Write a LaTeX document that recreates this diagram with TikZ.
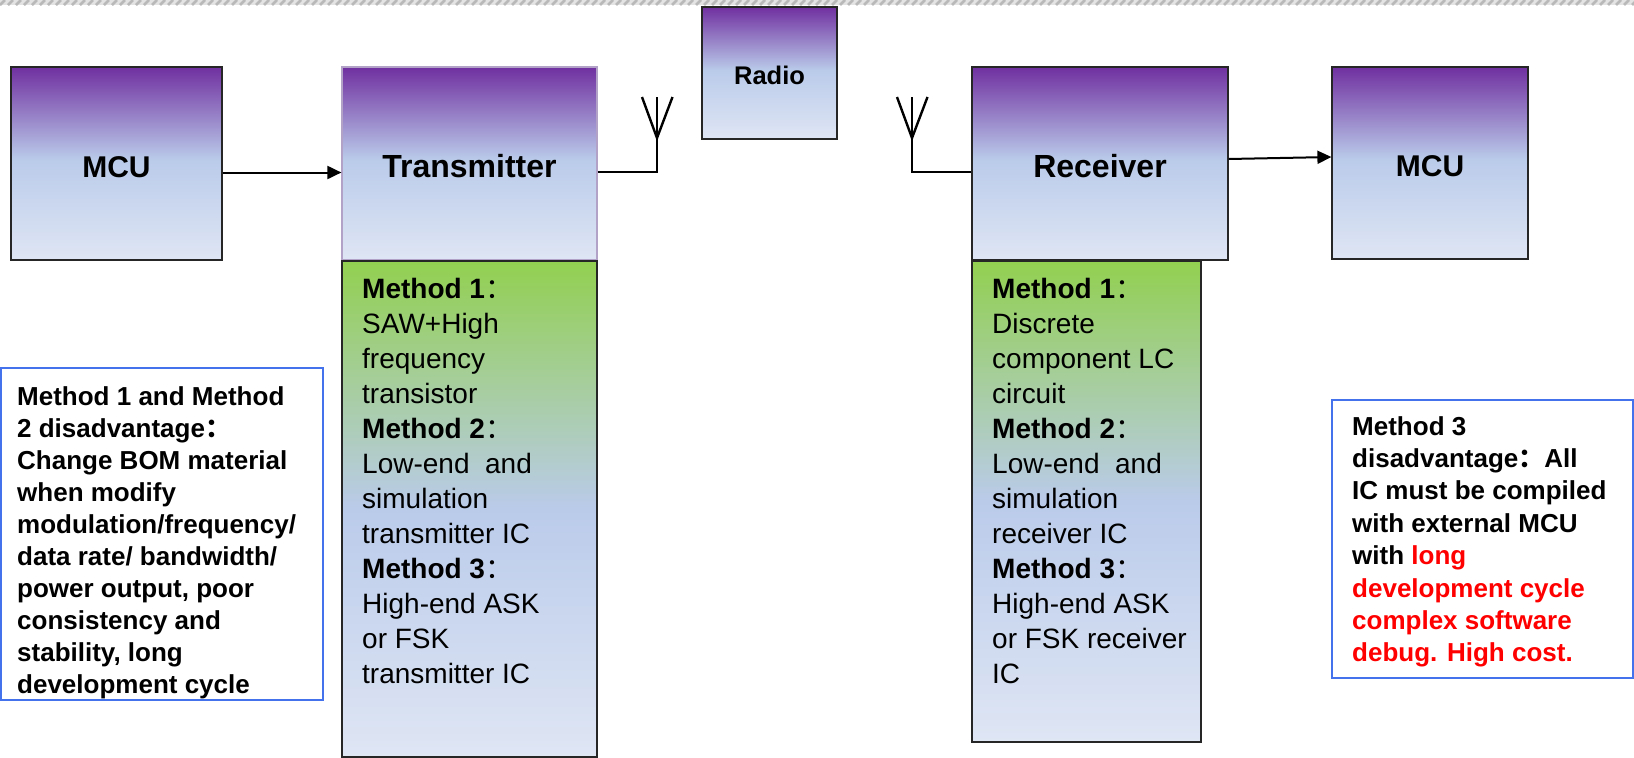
\documentclass[tikz,border=0pt]{standalone}
\usepackage{fontspec}
\setmainfont{Liberation Sans}
\newfontfamily\cjk{Noto Sans CJK SC}
\usetikzlibrary{arrows.meta}

\definecolor{topviolet}{RGB}{112,48,160}
\definecolor{midblue}{RGB}{186,203,234}
\definecolor{lowblue}{RGB}{223,230,244}
\definecolor{topgreen}{RGB}{146,208,80}
\definecolor{noteblue}{RGB}{68,114,236}
\definecolor{txedge}{RGB}{179,162,199}

\pgfdeclareverticalshading{violetfade}{100bp}{color(0bp)=(lowblue); color(25bp)=(lowblue); color(51bp)=(midblue); color(75bp)=(topviolet); color(100bp)=(topviolet)}
\pgfdeclareverticalshading{greenfade}{100bp}{color(0bp)=(lowblue); color(25bp)=(lowblue); color(50bp)=(midblue); color(75bp)=(topgreen); color(100bp)=(topgreen)}

\newcommand{\cjkcolon}{{\cjk ：}}
\newcommand{\antenna}[3]{
            \coordinate (#1) at (#2,#3-7.5);
            \draw[aerial] (#2-1.5,#3) -- (#2,#3-4.1) -- (#2+1.55,#3);
        }

\tikzset{
    block/.style={draw=black!85, line width=1.2, shading=violetfade, inner sep=0,
        font=\bfseries\fontsize{30}{36}\selectfont, text height=27pt, text depth=0pt},
    bigblock/.style={block, font=\bfseries\fontsize{32}{38}\selectfont, text height=28pt},
    methbox/.style={draw=black!85, line width=1.2, shading=greenfade, inner sep=0},
    methtext/.style={anchor=north west, inner sep=0, align=left, font=\fontsize{28}{35}\selectfont},
    notebox/.style={draw=noteblue, line width=1.5, inner sep=0},
    notetext/.style={anchor=north west, inner sep=0, align=left, font=\bfseries\fontsize{26}{32}\selectfont},
    link/.style={line width=2, -{Triangle[length=14pt,width=13pt]}},
    aerial/.style={line width=2.4}
}

\begin{document}
\begin{tikzpicture}[x=10pt, y=10pt]
        \useasboundingbox (0,0) rectangle (163.4,-75.8);
        \begin{scope}
            \clip (0,0) rectangle (163.4,-0.5);
            \fill[gray!22] (0,0) rectangle (163.4,-0.5);
            \foreach \s in {-0.8,0,...,164}
                \draw[gray!55, line width=2.6] (\s,-0.5) -- (\s+0.5,0);
        \end{scope}

        \node[block, minimum width=211pt, minimum height=193pt] (mcuL) at (11.65,-16.35) {MCU};
        \node[bigblock, draw=txedge, minimum width=255pt, minimum height=193pt] (tx) at (46.95,-16.35) {Transmitter};
        \node[methbox, minimum width=255pt, minimum height=496pt] (txlow) at (46.95,-50.9) {};
        \node[block, minimum width=135pt, minimum height=132pt, text height=22pt,
            font=\bfseries\fontsize{25.5}{30}\selectfont] (radio) at (76.95,-7.3) {Radio};
        \node[bigblock, minimum width=256pt, minimum height=193pt] (rx) at (110.0,-16.35) {Receiver};
        \node[methbox, minimum width=229pt, minimum height=481pt] (rxlow) at (108.65,-50.15) {};
        \node[block, minimum width=196pt, minimum height=192pt] (mcuR) at (143.0,-16.3) {MCU};

        \node[methtext] (txtext) at (36.2,-27.8) {
            \textbf{Method 1}\cjkcolon\\ SAW+High\\ frequency\\ transistor\\
            \textbf{Method 2}\cjkcolon\\ Low-end\ \ and\\ simulation\\ transmitter IC\\
            \textbf{Method 3}\cjkcolon\\ High-end ASK\\ or FSK\\ transmitter IC
        };
        \node[methtext] (rxtext) at (99.2,-27.8) {
            \textbf{Method 1}\cjkcolon\\ Discrete\\ component LC\\ circuit\\
            \textbf{Method 2}\cjkcolon\\ Low-end\ \ and\\ simulation\\ receiver IC\\
            \textbf{Method 3}\cjkcolon\\ High-end ASK\\ or FSK receiver\\ IC
        };

        \node[notebox, minimum width=322pt, minimum height=332pt] (noteL) at (16.2,-53.4) {};
        \node[notetext] (noteLtext) at (1.7,-38.6) {
            Method 1 and Method\\ 2 disadvantage\cjkcolon\\ Change BOM material\\ when modify\\
            modulation/frequency/\\ data rate/ bandwidth/\\ power output, poor\\
            consistency and\\ stability, long\\ development cycle
        };
        \node[notebox, minimum width=301pt, minimum height=278pt] (noteR) at (148.25,-53.9) {};
        \node[notetext, font=\bfseries\fontsize{26}{32.4}\selectfont] (noteRtext) at (135.2,-41.6) {
            Method 3\\ disadvantage\cjkcolon All\\ IC must be compiled\\ with external MCU\\
            with \textcolor{red}{long}\\ \textcolor{red}{development cycle}\\
            \textcolor{red}{complex software}\\ \textcolor{red}{debug. High cost.}
        };

        \antenna{antL}{65.7}{-9.7}
        \antenna{antR}{91.2}{-9.7}
        \draw[aerial] (tx.east |- antL) -- (antL) -- ++(0,7.5);
        \draw[aerial] (rx.west |- antR) -- (antR) -- ++(0,7.5);

        \draw[link] ([yshift=-9pt]mcuL.east) -- ([yshift=-9pt]tx.west);
        \draw[link] ([yshift=4.5pt]rx.east) -- ([yshift=6pt]mcuR.west);
\end{tikzpicture}
\end{document}
